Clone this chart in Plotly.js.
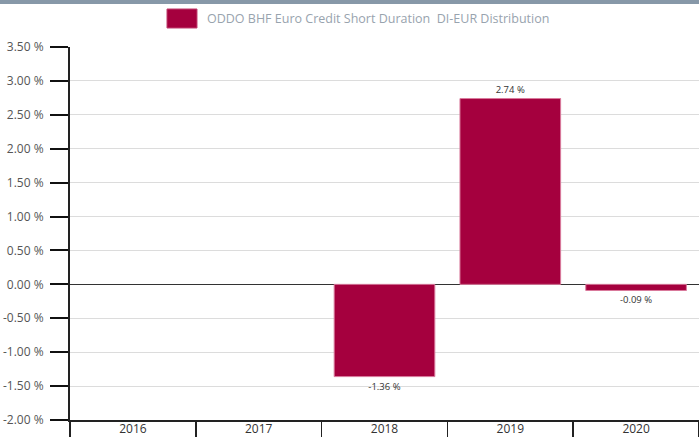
<!DOCTYPE html>
<html>
<head>
<meta charset="utf-8">
<script src="https://cdn.plot.ly/plotly-3.0.1.min.js"></script>
<style>html,body{margin:0;padding:0;background:#fff;}#chart{width:699px;height:437px;}</style>
</head>
<body>
<div id="chart"></div>
<script>
var years = ['2016', '2017', '2018', '2019', '2020'];
var returns = [null, null, -1.36, 2.74, -0.09];
var seriesName = 'ODDO BHF Euro Credit Short Duration  DI-EUR Distribution';
var yTickVals = [-2, -1.5, -1, -0.5, 0, 0.5, 1, 1.5, 2, 2.5, 3, 3.5];
var yTickText = ['-2.00 %', '-1.50 %', '-1.00 %', '-0.50 %', '0.00 %', '0.50 %', '1.00 %', '1.50 %', '2.00 %', '2.50 %', '3.00 %', '3.50 %'];

var barText = returns.map(function (v) { return v === null ? '' : v.toFixed(2) + ' %'; });

var trace = {
  type: 'bar',
  x: years,
  y: returns,
  name: seriesName,
  text: barText,
  textposition: 'outside',
  cliponaxis: false,
  textfont: {family: 'Open Sans, sans-serif', size: 9.5, color: '#333'},
  marker: {color: '#a5003e', line: {color: '#d97a9c', width: 1}},
  width: 0.8,
  hoverinfo: 'none',
  showlegend: false
};

var layout = {
  width: 699,
  height: 437,
  margin: {l: 70, r: 0, t: 47, b: 17},
  paper_bgcolor: '#fff',
  plot_bgcolor: '#fff',
  font: {family: 'Open Sans, sans-serif', color: '#555'},
  xaxis: {
    type: 'category',
    showline: true, linecolor: '#222', linewidth: 2,
    ticks: 'outside', tickson: 'boundaries', ticklen: 17, tickwidth: 1.5, tickcolor: '#222',
    ticklabelstandoff: -3,
    tickfont: {size: 12, color: '#333'},
    showgrid: false, zeroline: false, fixedrange: true
  },
  yaxis: {
    range: [-2, 3.5],
    tickvals: yTickVals,
    ticktext: yTickText,
    tickfont: {size: 12, color: '#555'},
    showline: true, linecolor: '#222', linewidth: 2,
    ticks: 'outside', ticklen: 18, tickwidth: 2, tickcolor: '#111',
    showgrid: true, gridcolor: '#dcdcdc', gridwidth: 1,
    zeroline: true, zerolinecolor: '#333', zerolinewidth: 1.5,
    ticklabelstandoff: 4,
    fixedrange: true
  },
  shapes: [
    {type: 'rect', xref: 'paper', yref: 'paper', ysizemode: 'pixel', yanchor: 1,
     x0: -0.12, x1: 1.01, y0: 43, y1: 48, fillcolor: '#8798a8', line: {width: 0}},
    {type: 'rect', xref: 'paper', yref: 'paper', x0: 0.1542, x1: 0.2019, y0: 1.0509, y1: 1.1019,
     fillcolor: '#a5003e', line: {color: '#c04070', width: 1}}
  ],
  annotations: [
    {xref: 'paper', yref: 'paper', x: 0.2146, y: 1.0764, xanchor: 'left', yanchor: 'middle',
     text: seriesName, showarrow: false, font: {size: 12.5, color: '#98a3ae'}}
  ]
};

Plotly.newPlot('chart', [trace], layout, {displayModeBar: false, staticPlot: true});
</script>
</body>
</html>
